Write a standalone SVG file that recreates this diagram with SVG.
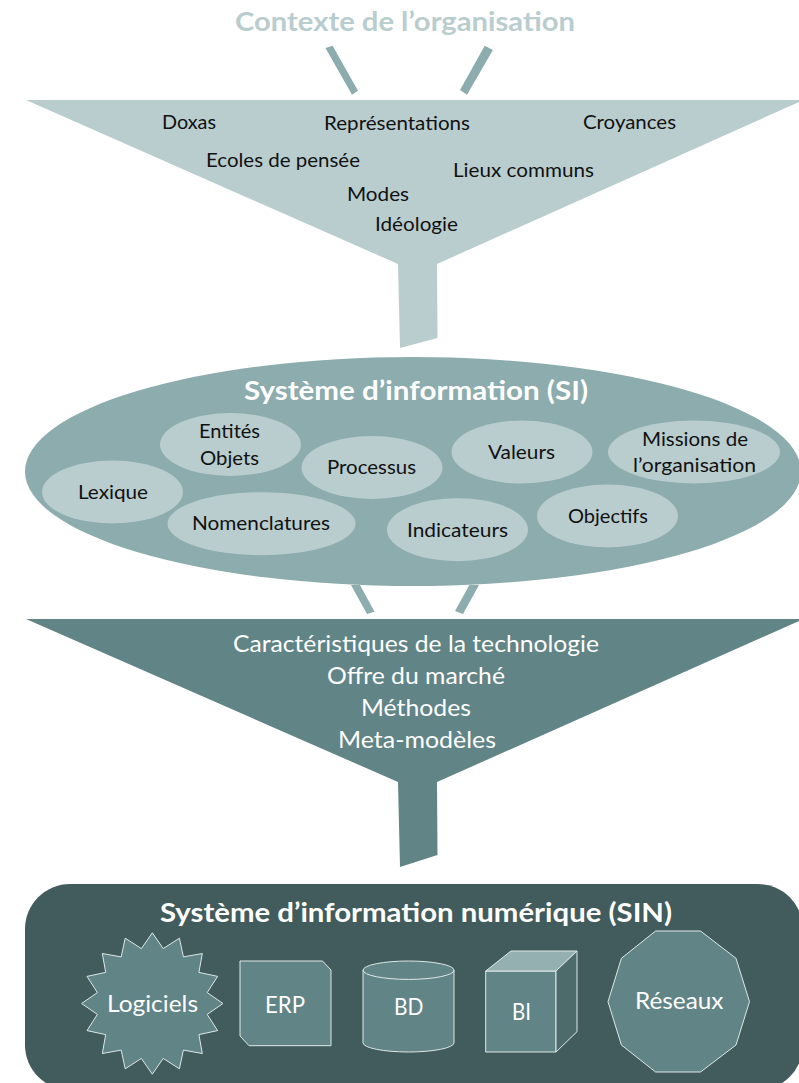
<svg xmlns="http://www.w3.org/2000/svg" width="799" height="1083" viewBox="0 0 799 1083">
<defs><style>
text{font-family:Lato,"Open Sans","Liberation Sans",sans-serif}
.d{fill:#111;font-size:20px}
.w{fill:#fff;font-size:22.5px}
.t{font-weight:700;font-size:27.5px;fill:#fff}
.l{fill:#b9cdcf}
.m{fill:#8cacad}
.n{fill:#618486}
.s{fill:#618486;stroke:#dfe8e8;stroke-width:1}
</style></defs>
<rect width="799" height="1083" fill="#fff"/>
<g id="connectors">
<polygon class="m" points="325.5,48 332.6,45.7 358,90.7 352,94.7"/>
<polygon class="m" points="484.7,45.7 492.9,50 467,94.7 460,90"/>
<polygon class="m" points="351,585 360,585 374.5,611.7 367,614"/>
<polygon class="m" points="469.4,585 479,585 463,614 455,611"/>
</g>
<g id="contexte">
<text class="t l" x="235" y="31" textLength="340" lengthAdjust="spacingAndGlyphs">Contexte de l’organisation</text>
</g>
<g id="entonnoir-1">
<polygon class="l" points="26,100 799,100 799,102 437,264 437.5,338 400,348 398,264"/>
<text class="d" x="162" y="129" textLength="54" lengthAdjust="spacingAndGlyphs">Doxas</text>
<text class="d" x="324" y="130" textLength="146" lengthAdjust="spacingAndGlyphs">Représentations</text>
<text class="d" x="583" y="129" textLength="93" lengthAdjust="spacingAndGlyphs">Croyances</text>
<text class="d" x="206" y="167" textLength="154" lengthAdjust="spacingAndGlyphs">Ecoles de pensée</text>
<text class="d" x="453" y="177" textLength="141" lengthAdjust="spacingAndGlyphs">Lieux communs</text>
<text class="d" x="347" y="201" textLength="62" lengthAdjust="spacingAndGlyphs">Modes</text>
<text class="d" x="375" y="231" textLength="83" lengthAdjust="spacingAndGlyphs">Idéologie</text>
</g>
<g id="si">
<ellipse class="m" cx="413" cy="471.5" rx="388" ry="114.5"/>
<text class="t" x="244" y="400" textLength="344" lengthAdjust="spacingAndGlyphs">Système d’information (SI)</text>
</g>
<g id="entites"><ellipse class="l" cx="230.5" cy="444.5" rx="70.5" ry="31.5"/>
<text class="d" x="199" y="438" textLength="61" lengthAdjust="spacingAndGlyphs">Entités</text>
<text class="d" x="200" y="465" textLength="59" lengthAdjust="spacingAndGlyphs">Objets</text></g>
<g id="processus"><ellipse class="l" cx="372" cy="467.5" rx="70.5" ry="31.5"/>
<text class="d" x="327" y="474" textLength="89" lengthAdjust="spacingAndGlyphs">Processus</text></g>
<g id="valeurs"><ellipse class="l" cx="522" cy="452" rx="70.5" ry="31.5"/>
<text class="d" x="488" y="459" textLength="67" lengthAdjust="spacingAndGlyphs">Valeurs</text></g>
<g id="missions"><ellipse class="l" cx="694" cy="452" rx="86" ry="31.5"/>
<text class="d" x="642" y="446" textLength="106" lengthAdjust="spacingAndGlyphs">Missions de</text>
<text class="d" x="633" y="472" textLength="123" lengthAdjust="spacingAndGlyphs">l’organisation</text></g>
<g id="lexique"><ellipse class="l" cx="112.5" cy="492" rx="70.5" ry="31.5"/>
<text class="d" x="78" y="499" textLength="70" lengthAdjust="spacingAndGlyphs">Lexique</text></g>
<g id="nomenclatures"><ellipse class="l" cx="261.5" cy="523.7" rx="94" ry="31.5"/>
<text class="d" x="192" y="530" textLength="138" lengthAdjust="spacingAndGlyphs">Nomenclatures</text></g>
<g id="indicateurs"><ellipse class="l" cx="457.5" cy="529.7" rx="70.5" ry="31.5"/>
<text class="d" x="407" y="537" textLength="101" lengthAdjust="spacingAndGlyphs">Indicateurs</text></g>
<g id="objectifs"><ellipse class="l" cx="607.5" cy="516" rx="70.5" ry="31.5"/>
<text class="d" x="568" y="523" textLength="80" lengthAdjust="spacingAndGlyphs">Objectifs</text></g>
<g id="entonnoir-2">
<polygon class="n" points="26,619 799,619 799,621 437,782 437.5,855 400,867 398,782"/>
<text class="w" x="233" y="652" textLength="366" lengthAdjust="spacingAndGlyphs">Caractéristiques de la technologie</text>
<text class="w" x="327" y="684" textLength="178" lengthAdjust="spacingAndGlyphs">Offre du marché</text>
<text class="w" x="361" y="716" textLength="110" lengthAdjust="spacingAndGlyphs">Méthodes</text>
<text class="w" x="338" y="748" textLength="158" lengthAdjust="spacingAndGlyphs">Meta-modèles</text>
</g>
<g id="sin">
<rect x="25" y="884" width="778" height="206" rx="45" fill="#425b5c"/>
<text class="t" x="160" y="922" textLength="512" lengthAdjust="spacingAndGlyphs">Système d’information numérique (SIN)</text>
</g>
<g id="logiciels">
<polygon class="s" transform="translate(152.3,1003.5)" points="70.7,0 54.9,10.9 65.3,27.1 46.6,31.1 50,50 31.1,46.6 27.1,65.3 10.9,54.9 0,70.7 -10.9,54.9 -27.1,65.3 -31.1,46.6 -50,50 -46.6,31.1 -65.3,27.1 -54.9,10.9 -70.7,0 -54.9,-10.9 -65.3,-27.1 -46.6,-31.1 -50,-50 -31.1,-46.6 -27.1,-65.3 -10.9,-54.9 0,-70.7 10.9,-54.9 27.1,-65.3 31.1,-46.6 50,-50 46.6,-31.1 65.3,-27.1 54.9,-10.9"/>
<text class="w" x="107" y="1012" textLength="91" lengthAdjust="spacingAndGlyphs">Logiciels</text>
</g>
<g id="erp">
<polygon class="s" points="240,961 322.5,961 331,970 331,1045.7 249,1045.7 240,1036"/>
<text class="w" x="265" y="1012.5" textLength="40" lengthAdjust="spacingAndGlyphs">ERP</text>
</g>
<g id="bd">
<path class="s" d="M363,970.2A45.5,9.2 0 0 1 454,970.2V1042.8A45.5,9.2 0 0 1 363,1042.8Z"/>
<path d="M363,970.2A45.5,9.2 0 0 0 454,970.2" fill="none" stroke="#dfe8e8"/>
<text class="w" x="394" y="1014.5" textLength="29.5" lengthAdjust="spacingAndGlyphs">BD</text>
</g>
<g id="bi">
<polygon class="s" points="485.7,971 556,971 556,1052 485.7,1052"/>
<polygon points="485.7,971 511,951 577,951 556,971" fill="#95b0b0" stroke="#dfe8e8"/>
<polygon points="556,971 577,951 577,1031.7 556,1052" fill="#4e6b6c" stroke="#dfe8e8"/>
<text class="w" x="512" y="1020" textLength="19" lengthAdjust="spacingAndGlyphs">BI</text>
</g>
<g id="reseaux">
<polygon class="s" points="655.6,931 700.5,931 736,958.3 749.5,1001.7 736,1045 700.5,1072 655.6,1072 621.4,1045 608,1001.7 621.4,958.3"/>
<text class="w" x="635" y="1009" textLength="88.5" lengthAdjust="spacingAndGlyphs">Réseaux</text>
</g>
</svg>
